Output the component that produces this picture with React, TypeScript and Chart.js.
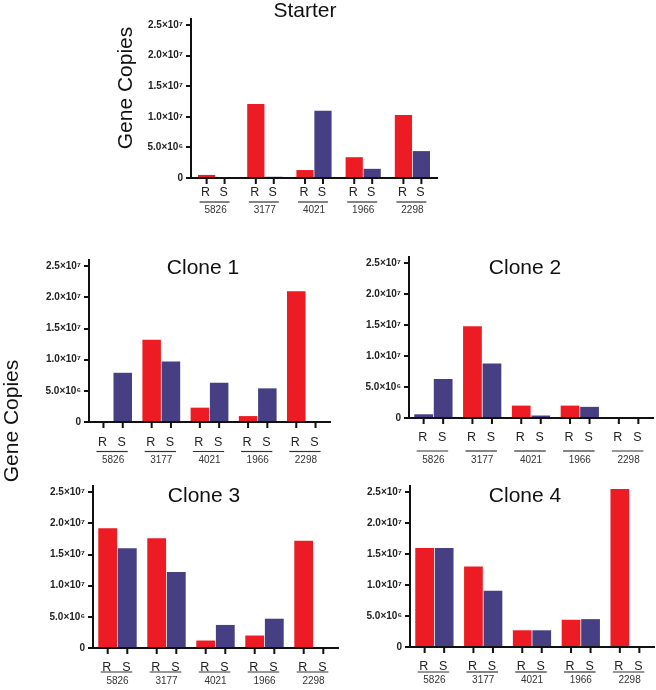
import React, { useEffect, useRef } from "react";
import { Chart, registerables } from "chart.js";

Chart.register(...registerables);

// ---------- data ----------
const genes = ["5826", "3177", "4021", "1966", "2298"];
const pairLabels = ["R", "S"];
const yTickValues = [0, 5e6, 1e7, 1.5e7, 2e7, 2.5e7];
const yTickLabels = ["0", "5.0×10⁶", "1.0×10⁷", "1.5×10⁷", "2.0×10⁷", "2.5×10⁷"];
const panelTitles = ["Starter", "Clone 1", "Clone 2", "Clone 3", "Clone 4"];
const axisTitle = "Gene Copies";

const starterR = [0.5e6, 12.1e6, 1.3e6, 3.4e6, 10.3e6];
const starterS = [0, 0.2e6, 11.0e6, 1.5e6, 4.4e6];
const clone1R = [0, 13.2e6, 2.3e6, 0.95e6, 21.0e6];
const clone1S = [7.9e6, 9.7e6, 6.3e6, 5.4e6, 0];
const clone2R = [0.6e6, 14.8e6, 2.0e6, 2.0e6, 0];
const clone2S = [6.3e6, 8.8e6, 0.4e6, 1.8e6, 0];
const clone3R = [19.2e6, 17.6e6, 1.2e6, 2.0e6, 17.2e6];
const clone3S = [16.0e6, 12.2e6, 3.7e6, 4.7e6, 0];
const clone4R = [16.0e6, 13.0e6, 2.7e6, 4.4e6, 25.5e6];
const clone4S = [16.0e6, 9.1e6, 2.7e6, 4.5e6, 0];

const RED = "#ED1C24";
const BLUE = "#463F84";
const redBars = [RED, RED, RED, RED, RED];
const blueBars = [BLUE, BLUE, BLUE, BLUE, BLUE];
const clone2RColors = [BLUE, RED, RED, RED, RED];

const Y_MAX = 2.6e7;
const YW = 55;
const XH = 10;
const FONT = "'Liberation Sans', Arial, Helvetica, sans-serif";

// ---------- layout (page coordinates) ----------
type Panel = {
  title: string;
  r: number[];
  s: number[];
  rColors: string[];
  sColors: string[];
  area: [number, number, number, number];
  x0: number;
  y0: number;
  titlePos: [number, number];
  yTitlePos?: [number, number];
  rs: number;
  line: number;
  num: number;
  cat: number;
  bar: number;
};

const panels: Panel[] = [
  { title: panelTitles[0], r: starterR, s: starterS, rColors: redBars, sColors: blueBars,
    area: [191, 19, 437, 178], x0: 100, y0: 0, titlePos: [305, 11], yTitlePos: [126, 88],
    rs: 15, line: 24, num: 32, cat: 0.73, bar: 0.96 },
  { title: panelTitles[1], r: clone1R, s: clone1S, rColors: redBars, sColors: blueBars,
    area: [89, 260, 330, 422], x0: 20, y0: 248, titlePos: [203, 268],
    rs: 20.5, line: 29.5, num: 38, cat: 0.8, bar: 0.96 },
  { title: panelTitles[2], r: clone2R, s: clone2S, rColors: clone2RColors, sColors: blueBars,
    area: [409, 257, 653, 418], x0: 340, y0: 245, titlePos: [525, 268],
    rs: 19.5, line: 33, num: 42, cat: 0.8, bar: 0.96 },
  { title: panelTitles[3], r: clone3R, s: clone3S, rColors: redBars, sColors: blueBars,
    area: [93, 486, 338, 648], x0: 25, y0: 474, titlePos: [204, 496],
    rs: 19.5, line: 24, num: 33, cat: 0.8, bar: 0.96 },
  { title: panelTitles[4], r: clone4R, s: clone4S, rColors: redBars, sColors: blueBars,
    area: [410, 486, 654, 647], x0: 340, y0: 474, titlePos: [525, 496],
    rs: 20, line: 25, num: 33.5, cat: 0.8, bar: 0.96 },
];

const labelPlugin = {
  id: "pairLabels",
  afterDraw(chart: any, _args: any, opts: any) {
    const p: Panel = opts.panel;
    if (!p) return;
    const ctx = chart.ctx as CanvasRenderingContext2D;
    const area = chart.chartArea;
    const metaR = chart.getDatasetMeta(0);
    const metaS = chart.getDatasetMeta(1);
    const b = area.bottom;
    ctx.save();
    for (let i = 0; i < genes.length; i++) {
      const xr = metaR.data[i].x;
      const xs = metaS.data[i].x;
      // tick marks
      ctx.strokeStyle = "#111";
      ctx.lineWidth = 2;
      ctx.beginPath();
      ctx.moveTo(xr, b);
      ctx.lineTo(xr, b + 6);
      ctx.moveTo(xs, b);
      ctx.lineTo(xs, b + 6);
      ctx.stroke();
      // R / S
      ctx.fillStyle = "#222";
      ctx.font = `12.5px ${FONT}`;
      ctx.textAlign = "center";
      ctx.textBaseline = "middle";
      ctx.fillText(pairLabels[0], xr - 1, b + p.rs);
      ctx.fillText(pairLabels[1], xs - 1, b + p.rs);
      // overline
      ctx.strokeStyle = "#333";
      ctx.lineWidth = 1.2;
      ctx.beginPath();
      ctx.moveTo(xr - 7, b + p.line);
      ctx.lineTo(xs + 5, b + p.line);
      ctx.stroke();
      // gene number
      ctx.font = `10px ${FONT}`;
      ctx.fillStyle = "#333";
      ctx.fillText(genes[i], (xr + xs) / 2, b + p.num);
    }
    // title
    ctx.fillStyle = "#111";
    ctx.font = `21px ${FONT}`;
    ctx.textAlign = "center";
    ctx.textBaseline = "middle";
    ctx.fillText(p.title, p.titlePos[0] - p.x0, p.titlePos[1] - p.y0);
    if (p.yTitlePos) {
      ctx.translate(p.yTitlePos[0] - p.x0, p.yTitlePos[1] - p.y0);
      ctx.rotate(-Math.PI / 2);
      ctx.font = `21px ${FONT}`;
      ctx.fillText(axisTitle, 0, 0);
    }
    ctx.restore();
  },
};

function PanelChart({ p }: { p: Panel }) {
  const ref = useRef<HTMLCanvasElement>(null);
  const [L, T, R, B] = p.area;
  const w = R - p.x0 + 2;
  const h = Math.min(B + 48, 690) - p.y0;
  useEffect(() => {
    if (!ref.current) return;
    const pl = L - p.x0 - YW;
    const pt = T - p.y0;
    const pr = p.x0 + w - R;
    const pb = h - (B - p.y0) - XH;
    const chart = new Chart(ref.current, {
      type: "bar",
      data: {
        labels: genes,
        datasets: [
          { label: pairLabels[0], data: p.r, backgroundColor: p.rColors, borderWidth: 0,
            categoryPercentage: p.cat, barPercentage: p.bar },
          { label: pairLabels[1], data: p.s, backgroundColor: p.sColors, borderWidth: 0,
            categoryPercentage: p.cat, barPercentage: p.bar },
        ],
      },
      options: {
        responsive: false,
        animation: false,
        devicePixelRatio: 1,
        layout: { padding: { left: pl, top: pt, right: pr, bottom: pb } },
        plugins: {
          legend: { display: false },
          tooltip: { enabled: false },
          title: { display: false },
          pairLabels: { panel: p },
        } as any,
        scales: {
          x: {
            type: "category",
            offset: true,
            grid: { display: false },
            border: { display: true, color: "#111", width: 2 },
            ticks: { display: false },
            afterFit: (s: any) => { s.height = XH; },
          },
          y: {
            min: 0,
            max: Y_MAX,
            afterBuildTicks: (s: any) => { s.ticks = yTickValues.map((v) => ({ value: v })); },
            ticks: {
              callback: (v: any) => {
                const i = yTickValues.indexOf(Number(v));
                return i >= 0 ? yTickLabels[i] : "";
              },
              font: { family: FONT, weight: "bold", size: 10 },
              color: "#222",
              padding: 3,
            },
            grid: { display: true, drawOnChartArea: false, drawTicks: true, tickLength: 5, lineWidth: 2, color: "#111" },
            border: { display: true, color: "#111", width: 2 },
            afterFit: (s: any) => { s.width = YW; },
          },
        },
      } as any,
      plugins: [labelPlugin],
    });
    return () => chart.destroy();
  }, []);
  return (
    <canvas
      ref={ref}
      width={w}
      height={h}
      style={{ position: "absolute", left: p.x0, top: p.y0, width: w, height: h }}
    />
  );
}

export default function App() {
  return (
    <div
      style={{
        position: "absolute", left: 0, top: 0, width: 656, height: 690,
        overflow: "hidden", background: "#fff",
      }}
    >
      {panels.map((p, i) => <PanelChart key={i} p={p} />)}
      <div
        style={{
          position: "absolute", left: 11 - 75, top: 421 - 13, width: 150, height: 26,
          lineHeight: "26px", textAlign: "center", fontFamily: FONT, fontSize: 21,
          color: "#111", transform: "rotate(-90deg)", transformOrigin: "50% 50%",
          whiteSpace: "nowrap",
        }}
      >
        {axisTitle}
      </div>
    </div>
  );
}
